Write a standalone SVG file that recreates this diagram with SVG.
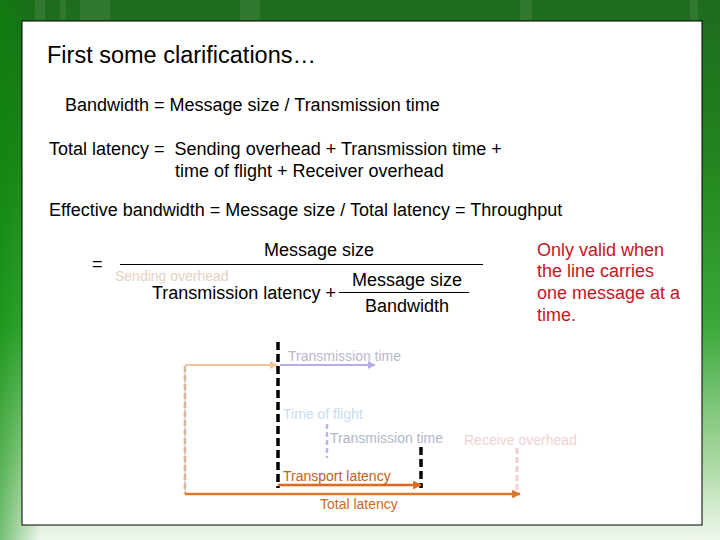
<svg xmlns="http://www.w3.org/2000/svg" width="720" height="540" viewBox="0 0 720 540">
<defs>
<linearGradient id="bg" x1="0" y1="0" x2="0" y2="1">
<stop offset="0" stop-color="#1e6b1e"/>
<stop offset="0.3" stop-color="#23851f"/>
<stop offset="0.6" stop-color="#3aa83a"/>
<stop offset="0.85" stop-color="#a8d8a0"/>
<stop offset="1" stop-color="#eef6ec"/>
</linearGradient>
<linearGradient id="lside" x1="0" y1="0" x2="1" y2="0">
<stop offset="0" stop-color="#008800" stop-opacity="0.5"/>
<stop offset="1" stop-color="#008800" stop-opacity="0"/>
</linearGradient>
<marker id="ap" viewBox="0 0 10 10" refX="9" refY="5" markerWidth="4" markerHeight="4" orient="auto"><path d="M0,0 L10,5 L0,10 z" fill="#f2c49c"/></marker>
<marker id="au" viewBox="0 0 10 10" refX="9" refY="5" markerWidth="4" markerHeight="4" orient="auto"><path d="M0,0 L10,5 L0,10 z" fill="#b4aee8"/></marker>
<marker id="ao" viewBox="0 0 10 10" refX="9" refY="5" markerWidth="3.5" markerHeight="3.5" orient="auto"><path d="M0,0 L10,5 L0,10 z" fill="#e0681e"/></marker>
<marker id="at" viewBox="0 0 10 10" refX="9" refY="5" markerWidth="3.5" markerHeight="3.5" orient="auto"><path d="M0,0 L10,5 L0,10 z" fill="#d8772e"/></marker>
</defs>
<style>
text{font-family:"Liberation Sans",Arial,sans-serif;}
.b{font-size:18px;fill:#000;}
.r{font-size:18px;fill:#c8141e;}
.s{font-size:14px;}
.dk{stroke:#000;stroke-width:3.5;stroke-dasharray:8,4;fill:none;}
</style>
<rect width="720" height="540" fill="url(#bg)"/>
<rect width="40" height="540" fill="url(#lside)"/>
<g opacity="0.08" fill="#ffffff">
<rect x="35" y="0" width="10" height="20"/><rect x="60" y="0" width="6" height="20"/><rect x="80" y="0" width="30" height="20"/><rect x="240" y="0" width="20" height="20"/><rect x="520" y="0" width="12" height="20"/><rect x="690" y="0" width="8" height="540"/>
</g>
<rect x="22" y="21" width="680" height="504" fill="#ffffff" stroke="#000" stroke-width="1"/>

<g id="title"><text x="47" y="63" font-size="23.5" fill="#000">First some clarifications…</text></g>
<g id="formulas">
<text class="b" x="65" y="111">Bandwidth = Message size / Transmission time</text>
<text class="b" x="49" y="155" xml:space="preserve">Total latency =  Sending overhead + Transmission time +</text>
<text class="b" x="175" y="177">time of flight + Receiver overhead</text>
<text class="b" x="49" y="216">Effective bandwidth = Message size / Total latency = Throughput</text>
<text class="b" x="92" y="270">=</text>
<text class="b" x="264" y="256">Message size</text>
<line x1="120" y1="264.5" x2="483" y2="264.5" stroke="#000" stroke-width="1"/>
<text x="115" y="281" font-size="14" fill="#e6d2bc">Sending overhead</text>
<text class="b" x="152" y="299">Transmission latency +</text>
<text class="b" x="352" y="286">Message size</text>
<line x1="339" y1="292.5" x2="469" y2="292.5" stroke="#000" stroke-width="1"/>
<text class="b" x="365" y="312">Bandwidth</text>
</g>
<g id="note">
<text class="r" x="537" y="256">Only valid when</text>
<text class="r" x="537" y="277">the line carries</text>
<text class="r" x="537" y="299">one message at a</text>
<text class="r" x="537" y="321">time.</text>
</g>

<g id="connectors">
<line x1="185" y1="366" x2="185" y2="494" stroke="#f0cfb2" stroke-width="3" stroke-dasharray="6,3"/>
<line x1="185" y1="366" x2="185" y2="494" stroke="#9a8a80" stroke-width="0.6"/>
<line x1="185" y1="365" x2="277" y2="365" stroke="#f2c49c" stroke-width="2" marker-end="url(#ap)"/>
<line x1="278" y1="342" x2="278" y2="488" class="dk"/>
<line x1="280" y1="365" x2="375" y2="365" stroke="#b4aee8" stroke-width="2" marker-end="url(#au)"/>
<line x1="327" y1="424" x2="327" y2="458" stroke="#bcb6e6" stroke-width="2.5" stroke-dasharray="5,3"/>
<line x1="421" y1="447" x2="421" y2="488" class="dk"/>
<line x1="517" y1="448" x2="517" y2="493" stroke="#f2d0cc" stroke-width="3" stroke-dasharray="6,3"/>
<line x1="278" y1="485" x2="421" y2="485" stroke="#e0681e" stroke-width="2.5" marker-end="url(#ao)"/>
<line x1="185" y1="494" x2="520" y2="494" stroke="#d8772e" stroke-width="2.5" marker-end="url(#at)"/>
</g>
<g id="labels">
<text class="s" x="288" y="361" fill="#b8b8d0">Transmission time</text>
<text class="s" x="283" y="419" fill="#c8dcf0">Time of flight</text>
<text class="s" x="330" y="443" fill="#b0b8c8">Transmission time</text>
<text class="s" x="464" y="445" fill="#f0d2d0">Receive overhead</text>
<text class="s" x="283" y="481" fill="#c0621e">Transport latency</text>
<text class="s" x="320" y="509" fill="#c86a28">Total latency</text>
</g>
</svg>
